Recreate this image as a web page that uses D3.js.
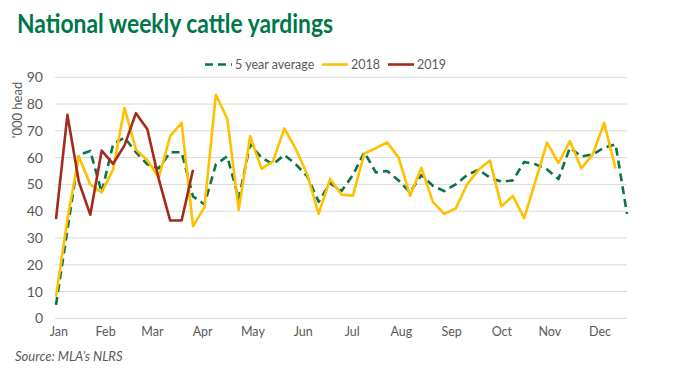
<!DOCTYPE html>
<html>
<head>
<meta charset="utf-8">
<script src="https://cdnjs.cloudflare.com/ajax/libs/d3/7.8.5/d3.min.js"></script>
<style>
  body { margin: 0; background: #fff; }
  text { font-family: Lato, "Open Sans", sans-serif; }
</style>
</head>
<body>
<div id="plot"></div>
<script>
// data ('000 head per week)
var months = ["Jan","Feb","Mar","Apr","May","Jun","Jul","Aug","Sep","Oct","Nov","Dec"];
var monthWeek = [0.2, 4.3, 8.4, 12.8, 17.2, 21.6, 25.9, 30.2, 34.6, 39.0, 43.2, 47.6];
var yTicks = [0, 10, 20, 30, 40, 50, 60, 70, 80, 90];

var avg5 = [5, 33, 61, 62.5, 47, 65, 67.5, 62, 57.5, 56, 62, 62, 45.5, 42.5, 57.5, 60.5, 44.5,
  65, 60, 57.5, 61, 57.5, 53, 43.5, 50.5, 47.5, 53.5, 62, 54.5, 55, 51.5, 47, 53.5, 49.5,
  47.5, 50, 53.5, 55.5, 52.5, 51, 51.5, 58.4, 57.5, 55.6, 52, 63.7, 60.4, 61.2, 63.7, 65, 39];
var y2018 = [8, 37, 60.5, 50, 47, 55.6, 78.5, 63, 59, 52.5, 68, 73, 34.4, 41.5, 83.5, 74.5, 40.5,
  68, 55.8, 58.6, 70.9, 63.2, 53.7, 39, 52, 46.2, 45.8, 61.5, 63.5, 65.7, 60, 45.8, 56.2, 43.5,
  39, 41, 50, 55.5, 58.9, 41.8, 45.7, 37.4, 51.5, 65.6, 58, 66.2, 56, 61.2, 73, 55.9];
var y2019 = [37, 76, 51, 38.7, 62.6, 57.7, 64.6, 76.6, 70.6, 52, 36.5, 36.5, 55.5];

var series = [
  {name: "5 year average", values: avg5, color: "#0a7447", dash: "8,5"},
  {name: "2018", values: y2018, color: "#ffc000", dash: null},
  {name: "2019", values: y2019, color: "#a52a1c", dash: null}
];

var W = 700, H = 373;
var svg = d3.select("#plot").append("svg").attr("width", W).attr("height", H);

var x = d3.scaleLinear().domain([0, 50]).range([56, 627]);
var y = d3.scaleLinear().domain([0, 90]).range([318.3, 77.3]);

// title
var title = svg.append("text")
  .attr("x", 17).attr("y", 33)
  .attr("fill", "#00774a")
  .style("font-size", "27px").style("font-weight", "bold")
  .text("National weekly cattle yardings");
if (title.node().getComputedTextLength() > 316) {
  title.attr("textLength", 316).attr("lengthAdjust", "spacingAndGlyphs");
}

// grid
svg.append("g").selectAll("line").data(yTicks).enter().append("line")
  .attr("x1", 55).attr("x2", 627)
  .attr("y1", function(d){ return y(d); }).attr("y2", function(d){ return y(d); })
  .attr("stroke", "#d9d9d9").attr("stroke-width", 1);

// y axis
var axisY = d3.axisLeft(y).tickValues(yTicks).tickSize(0).tickPadding(12);
var gy = svg.append("g").attr("transform", "translate(55,0)").call(axisY);
gy.select(".domain").remove();
gy.selectAll("text").style("font-size", "14px").attr("fill", "#595959")
  .style("font-family", "Lato, sans-serif");

svg.append("text")
  .attr("transform", "translate(22,110) rotate(-90)")
  .attr("text-anchor", "middle")
  .attr("fill", "#595959").style("font-size", "13px")
  .text("'000 head");

// x axis labels
var axisX = d3.axisBottom(x).tickValues(monthWeek).tickSize(0).tickPadding(9)
  .tickFormat(function(d, i){ return months[i]; });
var gx = svg.append("g").attr("transform", "translate(0,318.3)").call(axisX);
gx.select(".domain").remove();
gx.selectAll("text").style("font-size", "12.5px").attr("fill", "#595959")
  .style("font-family", "Lato, sans-serif");

// lines
var line = d3.line()
  .x(function(d, i){ return x(i); })
  .y(function(d){ return y(d); });

svg.append("g").selectAll("path").data(series).enter().append("path")
  .attr("d", function(d){ return line(d.values); })
  .attr("fill", "none")
  .attr("stroke", function(d){ return d.color; })
  .attr("stroke-width", 2.6)
  .attr("stroke-linejoin", "round")
  .attr("stroke-dasharray", function(d){ return d.dash; });

// legend
var legendX = [205, 322, 388];
var leg = svg.append("g").selectAll("g").data(series).enter().append("g")
  .attr("transform", function(d, i){ return "translate(" + legendX[i] + ",64.5)"; });
leg.append("line")
  .attr("x1", 0).attr("x2", function(d, i){ return i == 0 ? 27 : 26; })
  .attr("stroke", function(d){ return d.color; })
  .attr("stroke-width", 2.6)
  .attr("stroke-dasharray", function(d){ return d.dash; });
leg.append("text")
  .attr("x", function(d, i){ return i == 0 ? 30 : 29; }).attr("dy", "0.35em")
  .attr("fill", "#595959").style("font-size", "12.5px")
  .text(function(d){ return d.name; });

// source note
svg.append("text")
  .attr("x", 15).attr("y", 361)
  .attr("fill", "#595959").style("font-size", "13px").style("font-style", "italic")
  .text("Source: MLA\u2019s NLRS");
</script>
</body>
</html>
